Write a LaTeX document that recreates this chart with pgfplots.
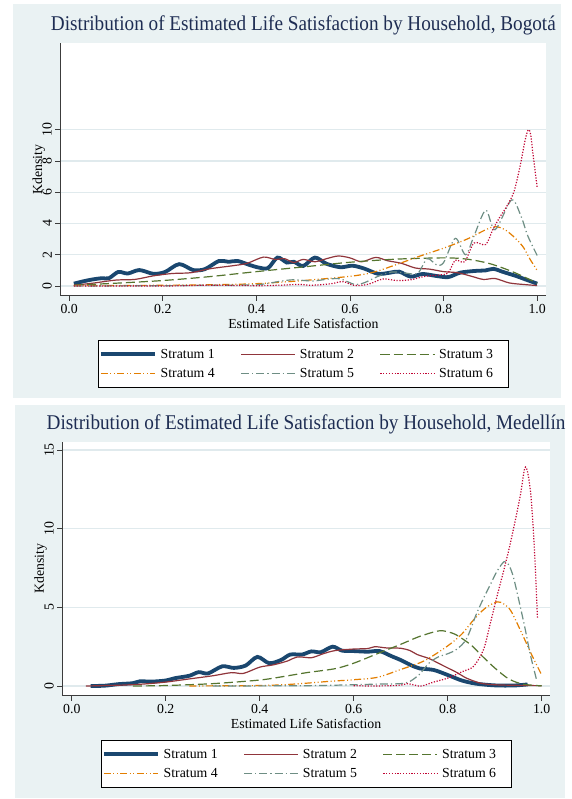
\documentclass[border=0pt]{standalone}
\usepackage{fontspec}
\setmainfont{Liberation Serif}
\usepackage{graphicx}
\usepackage{pgfplots}
\pgfplotsset{compat=1.18}

% Stata s2color palette
\definecolor{panelbg}{RGB}{234,242,243}
\definecolor{gridc}{RGB}{224,234,237}
\definecolor{titlec}{RGB}{30,45,83}
\definecolor{axisc}{RGB}{60,60,60}
\definecolor{snavy}{RGB}{26,71,111}
\definecolor{smaroon}{RGB}{144,53,59}
\definecolor{sgreen}{RGB}{85,117,47}
\definecolor{sorange}{RGB}{227,126,0}
\definecolor{steal}{RGB}{110,142,132}
\definecolor{scran}{RGB}{193,5,52}

% legend labels set in fixed-width boxes so the columns space out evenly
\newcommand{\legtext}[2]{\makebox[#1][l]{\hspace*{2pt}#2}}

\pgfplotsset{
  stratum1/.style={color=snavy, line width=3.8pt, smooth, tension=0.5},
  stratum2/.style={color=smaroon, line width=1.2pt, smooth, tension=0.5},
  stratum3/.style={color=sgreen, line width=1.2pt, smooth, tension=0.5, dash pattern=on 9pt off 4pt},
  stratum4/.style={color=sorange, line width=1.2pt, smooth, tension=0.5, dash pattern=on 7pt off 2.5pt on 1pt off 2.5pt on 1pt off 2.5pt},
  stratum5/.style={color=steal, line width=1.2pt, smooth, tension=0.5, dash pattern=on 8pt off 3pt on 1.2pt off 3pt},
  stratum6/.style={color=scran, line width=1.2pt, smooth, tension=0.5, dash pattern=on 1.2pt off 1.6pt},
  kdens/.style={
    scale only axis,
    axis x line*=bottom, axis y line*=left,
    axis line style={-, draw=axisc, line width=0.9pt},
    axis background/.style={fill=white},
    xtick={0,0.2,0.4,0.6,0.8,1},
    xticklabels={0.0,0.2,0.4,0.6,0.8,1.0},
    xtick pos=left, ytick pos=left,
    tick align=outside, major tick length=5pt,
    every tick/.style={draw=axisc, line width=0.9pt},
    ymajorgrids, grid style={draw=gridc, line width=1.1pt},
    ticklabel style={font=\fontsize{13.8}{15}\selectfont},
    /pgf/number format/assume math mode=true,
    yticklabel style={rotate=90, anchor=south},
    xlabel={Estimated Life Satisfaction},
    ylabel={Kdensity},
    label style={font=\fontsize{13.8}{15}\selectfont},
    xlabel style={at={(axis description cs:0.5,0)}, anchor=base, yshift=-32.6pt},
    ylabel style={at={(axis description cs:-0.0442,0.5)}, anchor=center},
    title style={at={(axis description cs:0.5,1)}, anchor=base, yshift=6.7pt,
      font=\fontsize{21}{24}\selectfont, text=titlec},
    legend columns=3,
    legend cell align=left,
    legend image code/.code={\draw[##1] (0pt,0pt) -- (54pt,0pt);},
    legend style={draw=black, line width=0.8pt, fill=white,
      font=\fontsize{13.8}{15}\selectfont, anchor=north,
      inner xsep=0pt, inner ysep=6.5pt, row sep=4.4pt,
      /tikz/every even column/.append style={column sep=24pt}},
  }
}

\begin{document}
\begin{tikzpicture}
\useasboundingbox (0,0) rectangle (571pt,-799pt);
\fill[white] (0,0) rectangle (571pt,-799pt);
\fill[panelbg] (13pt,-4pt) rectangle (561pt,-398pt);
\fill[panelbg] (14.6pt,-405pt) rectangle (565pt,-798pt);

% ---------------- Bogota ----------------
\begin{axis}[kdens,
  at={(60.4pt,-295.7pt)}, anchor=south west,
  width=486pt, height=252.7pt,
  xmin=-0.0188, xmax=1.0197, ymin=-0.62, ymax=15.546,
  ytick={0,2,4,6,8,10},
  title={\scalebox{0.915}[1]{Distribution of Estimated Life Satisfaction by Household, Bogotá}},
  legend style={at={(axis description cs:0.5002,-0.1753)}},
]
\addplot[stratum1] coordinates {
(0.01,0.15) (0.03,0.30) (0.05,0.42) (0.07,0.50) (0.085,0.50) (0.105,0.90)
(0.125,0.80) (0.15,1.02) (0.18,0.78) (0.205,0.90) (0.235,1.40) (0.265,1.02)
(0.29,1.08) (0.32,1.60) (0.34,1.55) (0.36,1.60) (0.385,1.35) (0.405,1.18)
(0.425,1.15) (0.445,1.82) (0.465,1.50) (0.48,1.55) (0.50,1.28) (0.525,1.82)
(0.55,1.42) (0.58,1.20) (0.605,1.30) (0.63,1.12) (0.66,0.78) (0.685,0.85)
(0.705,0.92) (0.73,0.60) (0.755,0.77) (0.785,0.64) (0.81,0.57) (0.835,0.85)
(0.865,0.96) (0.89,1.00) (0.907,1.10) (0.925,0.92) (0.955,0.64) (0.975,0.42)
(1.00,0.15)};
\addlegendentry{\legtext{56pt}{Stratum 1}}
\addplot[stratum2] coordinates {
(0.01,0.05) (0.05,0.18) (0.10,0.38) (0.14,0.42) (0.18,0.65) (0.22,0.80)
(0.26,0.85) (0.30,1.10) (0.35,1.30) (0.38,1.45) (0.415,1.85) (0.44,1.70)
(0.46,1.75) (0.48,1.50) (0.50,1.70) (0.525,1.55) (0.55,1.75) (0.575,1.92)
(0.60,1.80) (0.625,1.55) (0.655,1.83) (0.68,1.62) (0.71,1.45) (0.74,1.15)
(0.77,1.08) (0.80,0.92) (0.83,0.85) (0.86,0.62) (0.885,0.42) (0.91,0.48)
(0.94,0.20) (0.97,0.10) (1.00,0.03)};
\addlegendentry{\legtext{56pt}{Stratum 2}}
\addplot[stratum3] coordinates {
(0.01,0.05) (0.1,0.18) (0.2,0.35) (0.3,0.60) (0.4,0.92) (0.5,1.22)
(0.6,1.52) (0.7,1.72) (0.8,1.80) (0.85,1.72) (0.9,1.42) (0.95,0.88) (1.0,0.18)};
\addlegendentry{\legtext{69pt}{Stratum 3}}
\addplot[stratum4] coordinates {
(0.01,0.03) (0.1,0.03) (0.2,0.05) (0.3,0.08) (0.4,0.15) (0.5,0.35)
(0.6,0.62) (0.65,0.88) (0.7,1.38) (0.75,1.92) (0.8,2.42) (0.85,3.00)
(0.89,3.60) (0.91,3.80) (0.93,3.62) (0.95,3.15) (0.97,2.50) (0.985,1.70)
(1.00,1.00)};
\addlegendentry{\legtext{56pt}{Stratum 4}}
\addplot[stratum5] coordinates {
(0.01,0.0) (0.2,0.02) (0.3,0.05) (0.4,0.08) (0.45,0.30) (0.48,0.40)
(0.52,0.32) (0.555,0.45) (0.58,0.45) (0.61,0.10) (0.63,0.20) (0.66,0.62)
(0.69,0.90) (0.72,0.82) (0.745,0.82) (0.765,1.75) (0.785,1.35) (0.80,1.50)
(0.825,3.05) (0.847,2.00) (0.865,3.20) (0.89,4.85) (0.91,3.60) (0.945,5.50)
(0.965,4.50) (0.98,3.20) (1.00,1.95)};
\addlegendentry{\legtext{56pt}{Stratum 5}}
\addplot[stratum6] coordinates {
(0.01,0.0) (0.2,0.0) (0.3,0.05) (0.4,0.02) (0.45,0.05) (0.49,0.10)
(0.52,0.05) (0.56,0.15) (0.585,0.28) (0.61,0.03) (0.64,0.12) (0.67,0.45)
(0.70,0.35) (0.73,0.40) (0.76,0.62) (0.79,0.70) (0.81,0.85) (0.825,1.65)
(0.845,1.55) (0.865,2.75) (0.89,2.65) (0.905,3.60) (0.92,4.40) (0.935,5.10)
(0.95,6.00) (0.963,7.60) (0.974,9.30) (0.981,10.00) (0.986,9.70) (0.99,8.70)
(0.995,7.50) (1.00,6.30)};
\addlegendentry{\legtext{69pt}{Stratum 6}}
\end{axis}

% ---------------- Medellin ----------------
\begin{scope}
\clip (14.6pt,-405pt) rectangle (565pt,-798pt);
\begin{axis}[kdens,
  at={(62.2pt,-695.7pt)}, anchor=south west,
  width=487.8pt, height=254pt,
  xmin=-0.0204, xmax=1.0177, ymin=-0.617, ymax=15.53,
  ytick={0,5,10,15},
  title={\scalebox{0.915}[1]{Distribution of Estimated Life Satisfaction by Household, Medellín}},
  legend style={at={(axis description cs:0.5008,-0.1744)}},
]
\addplot[stratum1] coordinates {
(0.04,0.00) (0.07,0.02) (0.10,0.12) (0.13,0.18) (0.145,0.30) (0.17,0.28)
(0.20,0.35) (0.22,0.50) (0.25,0.65) (0.27,0.88) (0.29,0.80) (0.32,1.25)
(0.345,1.15) (0.37,1.30) (0.395,1.85) (0.42,1.45) (0.445,1.65) (0.465,2.00)
(0.49,2.00) (0.51,2.20) (0.53,2.15) (0.555,2.50) (0.575,2.25) (0.60,2.22)
(0.63,2.18) (0.655,2.22) (0.68,1.90) (0.70,1.65) (0.72,1.35) (0.74,1.12)
(0.77,1.02) (0.80,0.70) (0.83,0.35) (0.86,0.15) (0.90,0.04) (0.94,0.03)
(0.97,0.10)};
\addlegendentry{\legtext{56pt}{Stratum 1}}
\addplot[stratum2] coordinates {
(0.03,0.00) (0.10,0.05) (0.15,0.12) (0.20,0.25) (0.25,0.45) (0.30,0.65)
(0.34,0.85) (0.365,0.80) (0.40,1.20) (0.43,1.35) (0.46,1.60) (0.48,1.85)
(0.51,1.80) (0.535,2.05) (0.56,2.25) (0.60,2.35) (0.63,2.38) (0.645,2.50)
(0.67,2.42) (0.70,2.40) (0.72,2.25) (0.735,2.00) (0.76,1.75) (0.78,1.45)
(0.80,1.15) (0.82,0.85) (0.84,0.50) (0.87,0.18) (0.90,0.08) (0.95,0.04)
(1.00,0.02)};
\addlegendentry{\legtext{56pt}{Stratum 2}}
\addplot[stratum3] coordinates {
(0.13,0.00) (0.20,0.03) (0.30,0.15) (0.40,0.38) (0.45,0.60) (0.50,0.85)
(0.56,1.10) (0.60,1.45) (0.65,2.05) (0.70,2.65) (0.74,3.15) (0.78,3.50)
(0.80,3.45) (0.82,3.22) (0.85,2.60) (0.87,2.00) (0.90,1.15) (0.93,0.45)
(0.96,0.12) (1.00,0.01)};
\addlegendentry{\legtext{69pt}{Stratum 3}}
\addplot[stratum4] coordinates {
(0.25,0.00) (0.30,0.01) (0.40,0.03) (0.45,0.08) (0.50,0.18) (0.55,0.30)
(0.60,0.40) (0.65,0.55) (0.70,1.05) (0.75,1.60) (0.80,2.55) (0.83,3.30)
(0.855,4.20) (0.88,4.95) (0.905,5.35) (0.92,5.20) (0.935,4.75) (0.96,3.20)
(0.98,1.90) (1.00,0.70)};
\addlegendentry{\legtext{56pt}{Stratum 4}}
\addplot[stratum5] coordinates {
(0.30,0.00) (0.50,0.02) (0.60,0.08) (0.65,0.12) (0.70,0.15) (0.72,0.30)
(0.74,0.75) (0.76,1.45) (0.78,1.85) (0.80,2.05) (0.82,2.35) (0.84,3.00)
(0.86,4.50) (0.875,5.50) (0.89,6.40) (0.905,7.30) (0.92,7.90) (0.93,7.70)
(0.94,6.90) (0.954,5.10) (0.965,3.60) (0.975,2.10) (0.989,0.40)};
\addlegendentry{\legtext{56pt}{Stratum 5}}
\addplot[stratum6] coordinates {
(0.60,0.02) (0.64,0.00) (0.68,0.02) (0.70,0.05) (0.715,0.15) (0.73,0.05)
(0.745,0.00) (0.77,0.25) (0.80,0.50) (0.83,0.90) (0.855,1.25) (0.876,2.30)
(0.89,3.90) (0.904,5.60) (0.918,7.20) (0.932,8.90) (0.945,10.70) (0.955,12.20)
(0.964,13.85) (0.970,13.60) (0.976,12.40) (0.981,10.50) (0.986,7.80)
(0.991,4.30)};
\addlegendentry{\legtext{69pt}{Stratum 6}}
\end{axis}
\end{scope}
\end{tikzpicture}
\end{document}
